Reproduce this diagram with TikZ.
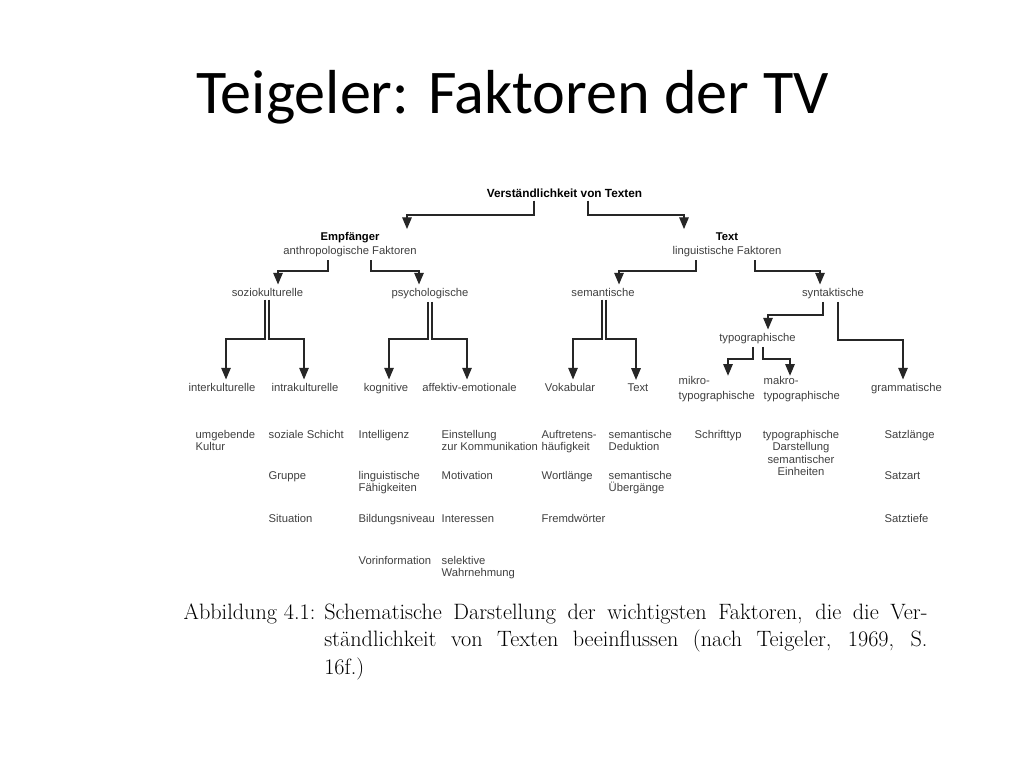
\documentclass[tikz,border=0pt]{standalone}
\usepackage{fontspec}
\newfontfamily\titlefont{Carlito}
\newfontfamily\diafont{Liberation Sans}
\usetikzlibrary{arrows,positioning}

\begin{document}
\begin{tikzpicture}[x=0.025cm, y=-0.025cm, >=triangle 45, line width=0.9pt]
	\tikzstyle{every node}=[inner xsep=0pt, inner ysep=2pt]
	\tikzstyle{lbl}=[font=\diafont\fontsize{8}{8.8}\selectfont, text=black!75, anchor=mid]
	\tikzstyle{head}=[lbl, align=center, anchor=north, font=\diafont\fontsize{8}{10}\selectfont]
	\tikzstyle{item}=[lbl, align=left, anchor=north west, inner ysep=0pt]
	\tikzstyle{arr}=[->, draw=black!85]
	\fill[white] (0,0) rectangle (1024,768);
	\useasboundingbox (0,0) rectangle (1024,768);

	% title
	\node[anchor=base, font=\titlefont\fontsize{44.2}{50}\selectfont] (title) at (512.5,114) {Teigeler: Faktoren der TV};

	% tree
	\node[lbl, text=black, font=\diafont\bfseries\fontsize{8.4}{9}\selectfont] (vers) at (564.5,194) {Verständlichkeit von Texten};
	\node[head] (empf) at (350,229) {{\bfseries\color{black}Empfänger}\\anthropologische Faktoren};
	\node[head] (text) at (727,229) {{\bfseries\color{black}Text}\\linguistische Faktoren};
	\node[lbl] (sozio)  at (267.5,293) {soziokulturelle};
	\node[lbl] (psych)  at (430,293)   {psychologische};
	\node[lbl] (sem)    at (603,293)   {semantische};
	\node[lbl] (synt)   at (833,293)   {syntaktische};
	\node[lbl] (typo)   at (757.5,338) {typographische};
	\node[lbl] (interk) at (222,388)   {interkulturelle};
	\node[lbl] (intrak) at (305,388)   {intrakulturelle};
	\node[lbl] (kogn)   at (386,388)   {kognitive};
	\node[lbl] (affekt) at (469.5,388) {affektiv-emotionale};
	\node[lbl] (vokab)  at (570,388)   {Vokabular};
	\node[lbl] (textL)  at (638,388)   {Text};
	\node[lbl] (gramm)  at (906.5,388) {grammatische};
	\node[item, font=\diafont\fontsize{8}{10.7}\selectfont] (mikro) at (678,375.7) {mikro-\\typographische};
	\node[item, font=\diafont\fontsize{8}{10.7}\selectfont] (makro) at (763,375.7) {makro-\\typographische};

	\draw[arr] (534,0 |- vers.south) |- (407,215) -- (407,0 |- empf.north);
	\draw[arr] (588,0 |- vers.south) |- (684,215) -- (684,0 |- text.north);
	\draw[arr] (328,0 |- empf.south) |- (278,271) -- (278,0 |- sozio.north);
	\draw[arr] (371,0 |- empf.south) |- (419,271) -- (419,0 |- psych.north);
	\draw[arr] (696,0 |- text.south) |- (619,271) -- (619,0 |- sem.north);
	\draw[arr] (755,0 |- text.south) |- (820,271) -- (820,0 |- synt.north);
	\draw[arr] (265,0 |- sozio.south) |- (226,339) -- (226,0 |- interk.north);
	\draw[arr] (269,0 |- sozio.south) |- (304,339) -- (304,0 |- intrak.north);
	\draw[arr] (428,0 |- psych.south) |- (389,339) -- (389,0 |- kogn.north);
	\draw[arr] (432,0 |- psych.south) |- (467,339) -- (467,0 |- affekt.north);
	\draw[arr] (602,0 |- sem.south) |- (573,339) -- (573,0 |- vokab.north);
	\draw[arr] (606,0 |- sem.south) |- (636,339) -- (636,0 |- textL.north);
	\draw[arr] (823,0 |- synt.south) |- (768,315) -- (768,0 |- typo.north);
	\draw[arr] (838,0 |- synt.south) |- (903,340) -- (903,0 |- gramm.north);
	\draw[arr] (753,0 |- typo.south) |- (728,359) -- (728,0 |- mikro.north);
	\draw[arr] (763,0 |- typo.south) |- (790,359) -- (790,0 |- makro.north);

	% factor lists
	\node[item] (umgeb)  at (195,429.7) {umgebende\\Kultur};
	\node[item] (schicht) at (268,429.7) {soziale Schicht};
	\node[item] (gruppe) at (268,470.7) {Gruppe};
	\node[item] (situ)   at (268,513.7) {Situation};
	\node[item] (intell) at (358,429.7) {Intelligenz};
	\node[item] (faehig) at (358,470.7) {linguistische\\Fähigkeiten};
	\node[item] (bildung) at (358,513.7) {Bildungsniveau};
	\node[item] (vorinf) at (358,555.7) {Vorinformation};
	\node[item] (einst)  at (441,429.7) {Einstellung\\zur Kommunikation};
	\node[item] (motiv)  at (441,470.7) {Motivation};
	\node[item] (inter)  at (441,513.7) {Interessen};
	\node[item] (selekt) at (441,555.7) {selektive\\Wahrnehmung};
	\node[item] (auftr)  at (541,429.7) {Auftretens-\\häufigkeit};
	\node[item] (wortl)  at (541,470.7) {Wortlänge};
	\node[item] (fremd)  at (541,513.7) {Fremdwörter};
	\node[item] (dedukt) at (608,429.7) {semantische\\Deduktion};
	\node[item] (uebg)   at (608,470.7) {semantische\\Übergänge};
	\node[item] (schrift) at (694,429.7) {Schrifttyp};
	\node[item, anchor=north, align=center] (darst) at (801,429.7) {typographische\\Darstellung\\semantischer\\Einheiten};
	\node[item] (satzl)  at (884,429.7) {Satzlänge};
	\node[item] (satza)  at (884,470.7) {Satzart};
	\node[item] (satzt)  at (884,513.7) {Satztiefe};

	% caption
	\node[anchor=base west, inner sep=0pt, font=\fontsize{15.8}{19.9}\selectfont] (capt) at (183,619) {%
		\begin{tabular}[t]{@{}l@{ }l@{}}
		Abbildung 4.1: & \makebox[429pt][s]{Schematische Darstellung der wichtigsten Faktoren, die die Ver-}\\
		& \makebox[429pt][s]{ständlichkeit von Texten beeinflussen (nach Teigeler, 1969, S.}\\
		& 16f.)
		\end{tabular}};
\end{tikzpicture}
\end{document}
